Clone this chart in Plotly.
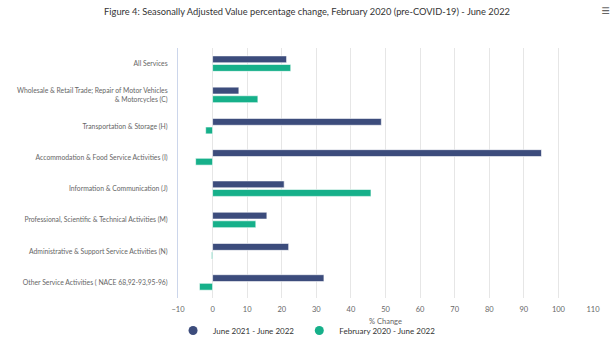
import plotly.graph_objects as go

categories = [
    "All Services",
    "Wholesale & Retail Trade; Repair of Motor Vehicles<br>& Motorcycles (C)",
    "Transportation & Storage (H)",
    "Accommodation & Food Service Activities (I)",
    "Information & Communication (J)",
    "Professional, Scientific & Technical Activities (M)",
    "Administrative & Support Service Activities (N)",
    "Other Service Activities ( NACE 68,92-93,95-96)",
]
june21_june22 = [21.4, 7.6, 48.8, 95.1, 20.7, 15.7, 22.0, 32.2]
feb20_june22 = [22.6, 13.1, -2.0, -4.9, 45.8, 12.5, -0.3, -3.8]
series_names = ["June 2021 - June 2022", "February 2020 - June 2022"]
colors = ["#3c4c7c", "#16b08a"]
x_ticks = list(range(-10, 111, 10))

fig = go.Figure()
for name, vals, col in zip(series_names, [june21_june22, feb20_june22], colors):
    fig.add_trace(go.Bar(
        y=categories, x=vals, orientation="h", name=name,
        marker=dict(color=col, line=dict(color="white", width=0.6)),
        showlegend=False,
    ))
for name, col in zip(series_names, colors):
    fig.add_trace(go.Scatter(
        x=[None], y=[None], mode="markers", name=name,
        marker=dict(color=col, size=9, symbol="circle"),
    ))

fig.update_layout(
    width=614, height=345,
    margin=dict(l=178, r=21, t=48, b=0),
    paper_bgcolor="white", plot_bgcolor="white",
    barmode="group", bargap=0.45, bargroupgap=0.2,
    font=dict(family="Lato, Open Sans, sans-serif", color="#666666", size=7),
    title=dict(
        text="Figure 4: Seasonally Adjusted Value percentage change, February 2020 (pre-COVID-19) - June 2022",
        x=0.5, xref="container", xanchor="center", y=0.965, yref="container",
        yanchor="middle",
        font=dict(size=9.3, color="#333333"),
    ),
    xaxis=dict(
        range=[-10, 110], tickvals=x_ticks, ticks="",
        showgrid=True, gridcolor="#e6e6e6", gridwidth=1,
        zeroline=False, showline=False, automargin=False,
        ticklabelstandoff=5,
        tickfont=dict(size=7.5, color="#666666"),
        title=dict(text="% Change", font=dict(size=7.5, color="#666666"), standoff=6),
    ),
    yaxis=dict(
        domain=[0.158, 1],
        categoryorder="array", categoryarray=categories, autorange="reversed",
        showline=True, linecolor="#ccd6eb", linewidth=1,
        showgrid=False, ticks="", ticklabelstandoff=8,
        tickfont=dict(size=6.8, color="#666666"),
    ),
    legend=dict(
        orientation="h", x=0.311, xanchor="center", xref="paper",
        y=0.0, yanchor="bottom", yref="paper",
        font=dict(size=8, color="#333333"), itemwidth=30,
    ),
)
fig.add_annotation(
    text="≡", xref="paper", yref="paper", x=1.045, y=1.17,
    showarrow=False, font=dict(size=16, color="#666666"),
)
fig.write_html("out.html")
